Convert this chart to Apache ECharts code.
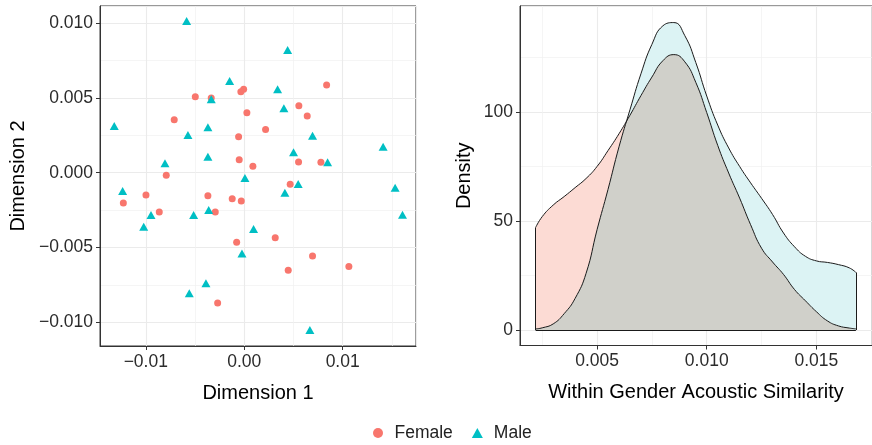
<!DOCTYPE html>
<html lang="en">
<head>
<meta charset="UTF-8">
<title>Acoustic similarity</title>
<script src="https://cdn.jsdelivr.net/npm/echarts@6/dist/echarts.min.js"></script>
<style>
  html, body { margin: 0; padding: 0; background: #fff; }
  #main { width: 872px; height: 445px; }
</style>
</head>
<body>
<div id="main"></div>
<script>
// MDS coordinates
var femaleDim1 = [0.00837, -0.00006, -0.00034, -0.00497, -0.00335, 0.00555, 0.00027, 0.0064, -0.00711, 0.00217,
  -0.00057, -0.00051, 0.00088, 0.00552, 0.00779, -0.00792, 0.00467, -0.00998, -0.01228, -0.00369,
  -0.00122, -0.0003, -0.00863, -0.00294, 0.00315, -0.00077, 0.00694, 0.01063, 0.00447, -0.0027];
var femaleDim2 = [0.00587, 0.00558, 0.00542, 0.00509, 0.0050, 0.00448, 0.00402, 0.0038, 0.00355, 0.0029,
  0.00241, 0.00087, 0.00043, 0.00072, 0.0007, -0.00017, -0.00078, -0.00149, -0.00203, -0.00154,
  -0.00174, -0.00189, -0.00263, -0.00263, -0.00435, -0.00466, -0.00558, -0.00627, -0.00653, -0.00872];
var maleDim1 = [-0.00585, 0.00441, -0.00148, 0.00339, -0.00335, 0.00403, -0.0132, -0.00369, -0.00572, 0.00694,
  0.00501, -0.00369, 0.00847, -0.00805, 0.00007, 0.00548, -0.01235, 0.00413, -0.00947, -0.00514,
  -0.00361, -0.01021, 0.00095, -0.00023, -0.00389, -0.00558, 0.00667, 0.01411, 0.01533, 0.01608];
var maleDim2 = [0.01015, 0.00821, 0.00614, 0.00558, 0.00491, 0.00431, 0.00313, 0.00304, 0.00252, 0.00248,
  0.00137, 0.00107, 0.0007, 0.00063, -0.00035, -0.00076, -0.00122, -0.00134, -0.00283, -0.00283,
  -0.0025, -0.00361, -0.00377, -0.0054, -0.0074, -0.00807, -0.01053, 0.00174, -0.001, -0.00281];

// density estimates
var similarity = [0.0022, 0.0025, 0.003, 0.0035, 0.004, 0.0045, 0.005, 0.0055, 0.006, 0.0065,
  0.007, 0.0075, 0.008, 0.0085, 0.009, 0.0095, 0.010, 0.0105, 0.011, 0.0115,
  0.012, 0.0125, 0.013, 0.0135, 0.014, 0.0145, 0.015, 0.0155, 0.016, 0.0165, 0.0168];
var femaleDensity = [47, 52, 57.3, 61.2, 65.3, 69.5, 75, 82.3, 90, 98.5,
  107.5, 116, 123.5, 126.3, 123, 113.6, 99.7, 84.7, 72, 60.5,
  48.3, 37.5, 31.2, 25.5, 18.6, 13.4, 8.4, 4.2, 1.9, 0.9, 0.5];
var maleDensity = [0.5, 1, 2.8, 7.5, 14.5, 26, 46, 64.5, 84, 101,
  117.5, 131, 139.5, 141, 135, 122.7, 107.3, 94, 83.5, 75,
  67.5, 60.4, 53, 44.5, 38.2, 33.8, 31.7, 31, 30, 28.5, 26.4];

var FEMALE = '#F8766D', MALE = '#00BFC4';
var FONT = 'Liberation Sans, Arial, Helvetica, sans-serif';

function zip(a, b) { return a.map(function (v, i) { return [v, b[i]]; }); }

// overlap of the two densities (lower envelope), with the crossing inserted
var overlap = [];
for (var i = 0; i < similarity.length; i++) {
  overlap.push([similarity[i], Math.min(femaleDensity[i], maleDensity[i])]);
  if (i < similarity.length - 1) {
    var d0 = femaleDensity[i] - maleDensity[i], d1 = femaleDensity[i + 1] - maleDensity[i + 1];
    if (d0 * d1 < 0) {
      var t = d0 / (d0 - d1);
      overlap.push([similarity[i] + t * (similarity[i + 1] - similarity[i]),
        femaleDensity[i] + t * (femaleDensity[i + 1] - femaleDensity[i])]);
    }
  }
}

function signed(v, d) { return (v < 0 ? '\u2212' : '') + Math.abs(v).toFixed(d); }

var last = similarity.length - 1;
function edge(x, y) { return [{ coord: [x, 0] }, { coord: [x, y] }]; }

var tickText = { fontSize: 17.5, color: '#2b2b2b', fontFamily: FONT };
var titleText = { fontSize: 20, color: '#000', fontFamily: FONT };
var axisLine = { show: true, onZero: false, lineStyle: { color: '#333', width: 1 } };
var axisTick = { show: true, length: 4, lineStyle: { color: '#333', width: 1 } };
var splitLine = { show: true, lineStyle: { color: '#EBEBEB', width: 1.1 } };
var minorSplit = { show: true, lineStyle: { color: '#F0F0F0', width: 0.7 } };

var chart = echarts.init(document.getElementById('main'));
chart.setOption({
  animation: false,
  backgroundColor: '#fff',
  grid: [
    { left: 100, top: 6, width: 316, height: 340, show: true, borderColor: '#333', borderWidth: 1, backgroundColor: '#fff' },
    { left: 520, top: 6, width: 356, height: 339.5, show: true, borderColor: '#333', borderWidth: 1, backgroundColor: '#fff' }
  ],
  legend: {
    data: [{ name: 'Female', icon: 'circle' }, { name: 'Male', icon: 'triangle' }],
    left: 368, top: 419, itemWidth: 11, itemHeight: 10, itemGap: 19,
    textStyle: { fontSize: 17.5, color: '#222', fontFamily: FONT, padding: [0, 0, 0, 6] }
  },
  xAxis: [
    {
      type: 'value', gridIndex: 0, min: -0.01465, max: 0.01745,
      minInterval: 0.01, maxInterval: 0.01, splitNumber: 3,
      axisLine: axisLine, axisTick: axisTick,
      axisLabel: Object.assign({ margin: 7, showMinLabel: false, showMaxLabel: false,
        formatter: function (v) { return signed(v, 2); } }, tickText),
      splitLine: splitLine, minorTick: { show: false, splitNumber: 2 }, minorSplitLine: minorSplit,
      name: 'Dimension 1', nameLocation: 'middle', nameGap: 37, nameTextStyle: titleText
    },
    {
      type: 'value', gridIndex: 1, min: 0.001487, max: 0.017534,
      minInterval: 0.005, maxInterval: 0.005, splitNumber: 3,
      axisLine: axisLine, axisTick: axisTick,
      axisLabel: Object.assign({ margin: 7, showMinLabel: false, showMaxLabel: false,
        formatter: function (v) { return v.toFixed(3); } }, tickText),
      splitLine: splitLine, minorTick: { show: false, splitNumber: 2 }, minorSplitLine: minorSplit,
      name: 'Within Gender Acoustic Similarity', nameLocation: 'middle', nameGap: 37, nameTextStyle: titleText
    }
  ],
  yAxis: [
    {
      type: 'value', gridIndex: 0, min: -0.0116, max: 0.01116,
      minInterval: 0.005, maxInterval: 0.005, splitNumber: 4,
      axisLine: axisLine, axisTick: axisTick,
      axisLabel: Object.assign({ margin: 7, showMinLabel: false, showMaxLabel: false,
        formatter: function (v) { return signed(v, 3); } }, tickText),
      splitLine: splitLine, minorTick: { show: false, splitNumber: 2 }, minorSplitLine: minorSplit,
      name: 'Dimension 2', nameLocation: 'middle', nameGap: 72, nameTextStyle: titleText
    },
    {
      type: 'value', gridIndex: 1, min: -7.1, max: 148.6,
      minInterval: 50, maxInterval: 50, splitNumber: 3,
      axisLine: axisLine, axisTick: axisTick,
      axisLabel: Object.assign({ margin: 7, showMinLabel: false, showMaxLabel: false }, tickText),
      splitLine: splitLine, minorTick: { show: false, splitNumber: 2 }, minorSplitLine: minorSplit,
      name: 'Density', nameLocation: 'middle', nameGap: 46, nameTextStyle: titleText
    }
  ],
  series: [
    {
      name: 'Female', type: 'scatter', xAxisIndex: 0, yAxisIndex: 0,
      symbol: 'circle', symbolSize: 7, itemStyle: { color: FEMALE, opacity: 1 },
      data: zip(femaleDim1, femaleDim2), silent: true
    },
    {
      name: 'Male', type: 'scatter', xAxisIndex: 0, yAxisIndex: 0,
      symbol: 'triangle', symbolSize: [9, 8], itemStyle: { color: MALE, opacity: 1 },
      data: zip(maleDim1, maleDim2), silent: true
    },
    {
      name: 'female fill', type: 'line', xAxisIndex: 1, yAxisIndex: 1, smooth: 0.5,
      symbol: 'none', lineStyle: { width: 0, opacity: 0 },
      areaStyle: { color: '#FCDBD4', opacity: 1 }, data: zip(similarity, femaleDensity), silent: true
    },
    {
      name: 'male fill', type: 'line', xAxisIndex: 1, yAxisIndex: 1, smooth: 0.5,
      symbol: 'none', lineStyle: { width: 0, opacity: 0 },
      areaStyle: { color: '#DCF3F4', opacity: 1 }, data: zip(similarity, maleDensity), silent: true
    },
    {
      name: 'overlap fill', type: 'line', xAxisIndex: 1, yAxisIndex: 1, smooth: 0.5,
      symbol: 'none', lineStyle: { width: 0, opacity: 0 },
      areaStyle: { color: '#D0D0CA', opacity: 1 }, data: overlap, silent: true
    },
    {
      name: 'female outline', type: 'line', xAxisIndex: 1, yAxisIndex: 1, smooth: 0.5,
      symbol: 'none', lineStyle: { color: '#1a1a1a', width: 1 },
      data: zip(similarity, femaleDensity), silent: true,
      markLine: {
        symbol: ['none', 'none'], silent: true, label: { show: false },
        lineStyle: { color: '#1a1a1a', width: 1, type: 'solid' },
        data: [
          edge(similarity[0], femaleDensity[0]),
          edge(similarity[last], femaleDensity[last]),
          [{ coord: [similarity[0], 0] }, { coord: [similarity[last], 0] }]
        ]
      }
    },
    {
      name: 'male outline', type: 'line', xAxisIndex: 1, yAxisIndex: 1, smooth: 0.5,
      symbol: 'none', lineStyle: { color: '#1a1a1a', width: 1 },
      data: zip(similarity, maleDensity), silent: true,
      markLine: {
        symbol: ['none', 'none'], silent: true, label: { show: false },
        lineStyle: { color: '#1a1a1a', width: 1, type: 'solid' },
        data: [
          edge(similarity[0], maleDensity[0]),
          edge(similarity[last], maleDensity[last])
        ]
      }
    }
  ]
});
</script>
</body>
</html>
